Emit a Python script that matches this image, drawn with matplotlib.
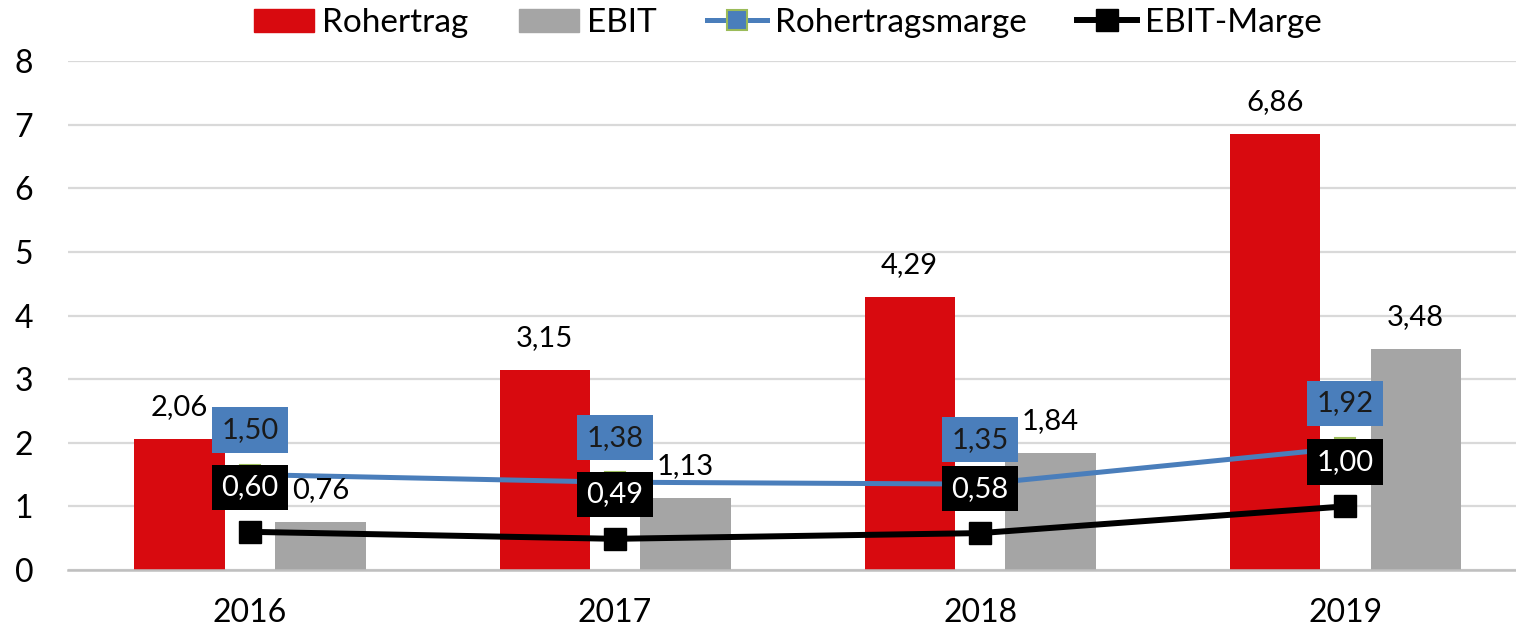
import matplotlib
matplotlib.use("Agg")
import matplotlib.pyplot as plt
from matplotlib.lines import Line2D
from matplotlib.patches import Patch
import numpy as np

years = ["2016", "2017", "2018", "2019"]
rohertrag = [2.06, 3.15, 4.29, 6.86]
ebit = [0.76, 1.13, 1.84, 3.48]
rohertragsmarge = [1.50, 1.38, 1.35, 1.92]
ebit_marge = [0.60, 0.49, 0.58, 1.00]
yticks = [0, 1, 2, 3, 4, 5, 6, 7, 8]

def fmt(v):
    return f"{v:.2f}".replace(".", ",")

plt.rcParams['font.family'] = ['Lato', 'DejaVu Sans']

RED = "#D80A0F"
GRAY = "#A5A5A5"
BLUE = "#4A7EBB"
GREEN = "#9BBB59"

fig = plt.figure(figsize=(15.16, 6.33), dpi=100)
ax = fig.add_axes([68/1516, 1-570/633, 1-68/1516, (570-61)/633])

x = np.arange(len(years))
w = 0.247
off = 0.193
ax.bar(x - off, rohertrag, width=w, color=RED, zorder=2)
ax.bar(x + off, ebit, width=w, color=GRAY, zorder=2)

ax.plot(x, rohertragsmarge, color=BLUE, lw=3.6, marker='s', ms=15,
        markerfacecolor=BLUE, markeredgecolor=GREEN, markeredgewidth=1.5, zorder=3)
ax.plot(x, ebit_marge, color='black', lw=4.3, marker='s', ms=16,
        markerfacecolor='black', markeredgecolor='black', zorder=3)

lab_fs = 21
for i in range(len(years)):
    ax.annotate(fmt(rohertrag[i]), (x[i] - off, rohertrag[i]), xytext=(0, 23),
                textcoords='offset points', ha='center', va='center', fontsize=lab_fs, zorder=5)
    ax.annotate(fmt(ebit[i]), (x[i] + off, ebit[i]), xytext=(0, 23),
                textcoords='offset points', ha='center', va='center', fontsize=lab_fs, zorder=5)
    ax.annotate(fmt(rohertragsmarge[i]), (x[i], rohertragsmarge[i]), xytext=(0, 32),
                textcoords='offset points', ha='center', va='center', fontsize=lab_fs,
                color='#1a1a1a', zorder=6,
                bbox=dict(boxstyle='square,pad=0.33', fc=BLUE, ec='none'))
    ax.annotate(fmt(ebit_marge[i]), (x[i], ebit_marge[i]), xytext=(0, 32),
                textcoords='offset points', ha='center', va='center', fontsize=lab_fs,
                color='white', zorder=7,
                bbox=dict(boxstyle='square,pad=0.33', fc='black', ec='none'))

ax.set_xlim(-0.4986, 3.468)
ax.set_ylim(0, 8)
ax.set_yticks(yticks)
ax.set_yticklabels([str(t) for t in yticks])
ax.set_xticks(x)
ax.set_xticklabels(years)
ax.tick_params(axis='both', length=0, labelsize=23)
ax.tick_params(axis='y', pad=25)
ax.tick_params(axis='x', pad=20)
ax.grid(axis='y', color='#D9D9D9', lw=1.6, zorder=0)
ax.set_axisbelow(True)
for s in ['top', 'left', 'right']:
    ax.spines[s].set_visible(False)
ax.spines['bottom'].set_color('#BFBFBF')
ax.spines['bottom'].set_linewidth(1.8)
ax.spines['bottom'].set_zorder(4)

handles = [
    Patch(color=RED, label='Rohertrag'),
    Patch(color=GRAY, label='EBIT'),
    Line2D([0], [0], color=BLUE, lw=3.6, marker='s', ms=15, markerfacecolor=BLUE,
           markeredgecolor=GREEN, markeredgewidth=1.5, label='Rohertragsmarge'),
    Line2D([0], [0], color='black', lw=4.3, marker='s', ms=16, markerfacecolor='black',
           label='EBIT-Marge'),
]
fig.legend(handles=handles, loc='center', bbox_to_anchor=(788/1516, 1-23/633), ncol=4,
           frameon=False, fontsize=24, handlelength=1.8, handleheight=0.7,
           handletextpad=0.25, columnspacing=1.5)

fig.savefig("out.png", dpi=100)
